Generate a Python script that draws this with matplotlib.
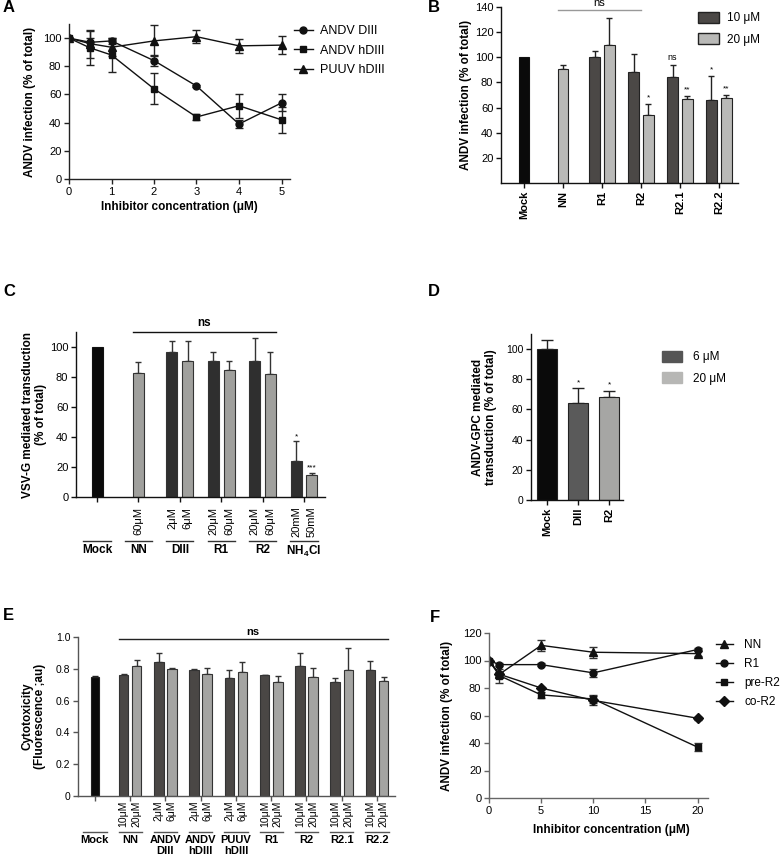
import numpy as np
import matplotlib.pyplot as plt
from matplotlib.lines import Line2D
from matplotlib.patches import Patch

plt.rcParams['font.family'] = ['Liberation Sans', 'DejaVu Sans']
plt.rcParams['mathtext.fontset'] = 'custom'
plt.rcParams['mathtext.rm'] = 'Liberation Sans'
plt.rcParams['mathtext.bf'] = 'Liberation Sans:bold'
plt.rcParams['font.size'] = 8

# ---------------- data ----------------
# A: dose response, three domains
a_x = [0, 0.5, 1, 2, 3, 4, 5]
a_diii = [100, 97, 98, 84, 66, 39, 54]
a_diii_err = [0, 3, 2, 4, 1, 3, 6]
a_hdiii = [100, 93, 88, 64, 44, 52, 42]
a_hdiii_err = [0, 12, 12, 11, 2, 8.5, 9]
a_puuv = [100, 96, 93.5, 98, 101, 94.5, 95]
a_puuv_err = [0, 10, 6, 11, 4.5, 5, 6.5]

# B: peptides, 10 / 20 uM
b_groups = ['Mock', 'NN', 'R1', 'R2', 'R2.1', 'R2.2']
b_mock = 100
b_dark = [None, None, 100, 88, 84, 66]
b_dark_err = [0, 0, 5, 15, 10, 19]
b_light = [None, 91, 110, 54, 67, 68]
b_light_err = [0, 3, 21, 9, 2, 2]
b_dark_sig = ['', '', '', '', 'ns', '*']
b_light_sig = ['', '', '', '*', '**', '**']

# C: VSV-G transduction
c_groups = ['Mock', 'NN', 'DIII', 'R1', 'R2', r'NH$_\mathbf{4}$Cl']
c_mock = 100
c_dark = [None, None, 97, 91, 90.5, 24]
c_dark_err = [0, 0, 7, 6, 15.5, 13]
c_light = [None, 83, 91, 85, 82, 14.5]
c_light_err = [0, 7, 13, 6, 15, 1.5]
c_dark_lbl = ['', '', '2μM', '20μM', '20μM', '20mM']
c_light_lbl = ['', '60μM', '6μM', '60μM', '60μM', '50mM']
c_dark_sig = ['', '', '', '', '', '*']
c_light_sig = ['', '', '', '', '', '***']

# D: ANDV-GPC transduction
d_labels = ['Mock', 'DIII', 'R2']
d_values = [100, 64, 68.5]
d_err = [6, 10, 4]
d_sig = ['', '*', '*']

# E: cytotoxicity
e_groups = ['Mock', 'NN', 'ANDV\nDIII', 'ANDV\nhDIII', 'PUUV\nhDIII', 'R1', 'R2', 'R2.1', 'R2.2']
e_mock = 0.75
e_mock_err = 0.005
e_dark = [None, 0.76, 0.84, 0.79, 0.74, 0.76, 0.815, 0.715, 0.795]
e_dark_err = [0, 0.005, 0.06, 0.01, 0.05, 0.003, 0.085, 0.03, 0.055]
e_light = [None, 0.82, 0.80, 0.765, 0.78, 0.72, 0.75, 0.79, 0.725]
e_light_err = [0, 0.035, 0.003, 0.04, 0.06, 0.035, 0.055, 0.14, 0.025]
e_dark_lbl = ['', '10μM', '2μM', '2μM', '2μM', '10μM', '10μM', '10μM', '10μM']
e_light_lbl = ['', '20μM', '6μM', '6μM', '6μM', '20μM', '20μM', '20μM', '20μM']

# F: time of addition
f_x = [0, 1, 5, 10, 20]
f_nn = [100, 90, 111, 106, 105]
f_nn_err = [0, 2, 4, 4, 2]
f_r1 = [100, 97, 97, 91, 108]
f_r1_err = [0, 1, 1, 3, 1]
f_pre = [100, 89, 75, 72, 37]
f_pre_err = [0, 5, 2, 3, 3]
f_co = [100, 90, 80, 71, 58]
f_co_err = [0, 2, 1, 3, 1]

W, H = 783, 860
fig = plt.figure(figsize=(W / 100, H / 100), dpi=100)


def add_ax(l, t, r, b):
    return fig.add_axes([l / W, 1 - b / H, (r - l) / W, (b - t) / H])


def style(ax, color='#222222', size=8):
    for s in ['top', 'right']:
        ax.spines[s].set_visible(False)
    for s in ['left', 'bottom']:
        ax.spines[s].set_color(color)
        ax.spines[s].set_linewidth(1.0)
    ax.tick_params(direction='out', length=3.5, width=1, color=color,
                   labelsize=size, pad=2)


def panel_letter(x, y, s):
    fig.text(x / W, 1 - y / H, s, fontsize=12, fontweight='bold', va='center', ha='left')


def grouped_bars(ax, dark, dark_err, light, light_err, dc, lc, off, width, ec):
    pos_d, pos_l = [], []
    for i in range(len(dark)):
        both = dark[i] is not None and light[i] is not None
        if dark[i] is not None:
            p = i - off if both else i
            ax.bar(p, dark[i], width, color=dc, edgecolor=ec, linewidth=0.8, zorder=2)
            ax.errorbar(p, dark[i], yerr=[[0], [dark_err[i]]], fmt='none', ecolor=ec,
                        elinewidth=1, capsize=2.5, capthick=1, zorder=1)
        pos_d.append(i - off if both else i)
        if light[i] is not None:
            p = i + off if both else i
            ax.bar(p, light[i], width, color=lc, edgecolor=ec, linewidth=0.8, zorder=2)
            ax.errorbar(p, light[i], yerr=[[0], [light_err[i]]], fmt='none', ecolor=ec,
                        elinewidth=1, capsize=2.5, capthick=1, zorder=1)
        pos_l.append(i + off if both else i)
    return pos_d, pos_l


# ---------------- A ----------------
axA = add_ax(69, 24, 290, 179)
style(axA)
axA.errorbar(a_x, a_diii, yerr=a_diii_err, fmt='none', ecolor='#222', elinewidth=1, capsize=3)
axA.errorbar(a_x, a_hdiii, yerr=a_hdiii_err, fmt='none', ecolor='#222', elinewidth=1, capsize=3)
axA.errorbar(a_x, a_puuv, yerr=a_puuv_err, fmt='none', ecolor='#222', elinewidth=1, capsize=3)
hA1, = axA.plot(a_x, a_diii, '-o', color='#111', ms=5, lw=1, label='ANDV DIII')
hA2, = axA.plot(a_x, a_hdiii, '-s', color='#111', ms=5, lw=1, label='ANDV hDIII')
hA3, = axA.plot(a_x, a_puuv, '-^', color='#111', ms=6, lw=1, label='PUUV hDIII')
axA.set_xlim(0, 5.2)
axA.set_ylim(0, 110)
axA.set_xticks([0, 1, 2, 3, 4, 5])
axA.set_yticks([0, 20, 40, 60, 80, 100])
axA.set_ylabel('ANDV infection (% of total)', fontweight='bold', fontsize=8.5)
axA.yaxis.set_label_coords(-0.15, 0.5)
axA.set_xlabel('Inhibitor concentration (μM)', fontweight='bold', fontsize=8.5)
axA.xaxis.set_label_coords(0.5, -0.14)
fig.legend(handles=[hA1, hA2, hA3], loc='upper left', bbox_to_anchor=(294 / W, 1 - 25 / H),
           frameon=False, fontsize=9, handlelength=1.5, handletextpad=0.55,
           labelspacing=0.6, borderaxespad=0, borderpad=0)
panel_letter(3, 8, 'A')

# ---------------- B ----------------
axB = add_ax(501, 7, 738, 183)
style(axB, color='#111')
axB.bar(0, b_mock, 0.28, color='#0a0a0a', edgecolor='#111', linewidth=0.8, zorder=2)
bd, bl = grouped_bars(axB, b_dark, b_dark_err, b_light, b_light_err,
                      '#4b4846', '#b9b9b7', 0.19, 0.28, '#222')
for i in range(len(b_groups)):
    if b_dark_sig[i]:
        axB.text(bd[i], b_dark[i] + b_dark_err[i] + 2, b_dark_sig[i], ha='center',
                 va='bottom', fontsize=6.5 if b_dark_sig[i] == 'ns' else 6)
    if b_light_sig[i]:
        axB.text(bl[i], b_light[i] + b_light_err[i] + 2, b_light_sig[i], ha='center',
                 va='bottom', fontsize=6)
axB.plot([0.86, 3.0], [137.5, 137.5], color='#999', lw=1, clip_on=False)
axB.text(1.93, 139, 'ns', ha='center', va='bottom', fontsize=8, clip_on=False)
axB.set_xlim(-0.59, 5.49)
axB.set_ylim(0, 140)
axB.set_yticks([20, 40, 60, 80, 100, 120, 140])
axB.set_xticks(range(len(b_groups)))
axB.set_xticklabels(b_groups, rotation=90, fontweight='bold', fontsize=8)
axB.set_ylabel('ANDV infection (% of total)', fontweight='bold', fontsize=8.5)
axB.yaxis.set_label_coords(-0.122, 0.5)
fig.legend(handles=[Patch(facecolor='#4b4846', edgecolor='#222', label='10 μM'),
                    Patch(facecolor='#b9b9b7', edgecolor='#222', label='20 μM')],
           loc='upper left', bbox_to_anchor=(698 / W, 1 - 12 / H), frameon=False,
           fontsize=8.5, handlelength=1.8, handleheight=1.0, handletextpad=0.65,
           labelspacing=0.75, borderaxespad=0, borderpad=0)
panel_letter(428, 8, 'B')

# ---------------- C ----------------
axC = add_ax(76, 332, 325, 497)
style(axC, color='#111')
axC.bar(0, c_mock, 0.265, color='#0a0a0a', edgecolor='#111', linewidth=0.8, zorder=2)
cd, cl = grouped_bars(axC, c_dark, c_dark_err, c_light, c_light_err,
                      '#2f2f2f', '#a0a09d', 0.19, 0.265, '#333')
for i in range(len(c_groups)):
    if c_dark_sig[i]:
        axC.text(cd[i], c_dark[i] + c_dark_err[i] + 1, c_dark_sig[i], ha='center',
                 va='bottom', fontsize=6)
    if c_light_sig[i]:
        axC.text(cl[i], c_light[i] + c_light_err[i] + 1, c_light_sig[i], ha='center',
                 va='bottom', fontsize=6)
    for p, s in [(cd[i], c_dark_lbl[i]), (cl[i], c_light_lbl[i])]:
        if s:
            axC.annotate(s, xy=(p, 0), xycoords=('data', 'axes fraction'),
                         xytext=(0, -7), textcoords='offset points', rotation=90,
                         ha='center', va='top', fontsize=8)
    axC.plot([i - 0.33, i + 0.33], [-0.267, -0.267], color='#333', lw=1,
             transform=axC.get_xaxis_transform(), clip_on=False)
    axC.text(i, -0.285, c_groups[i], transform=axC.get_xaxis_transform(), ha='center',
             va='top', fontweight='bold', fontsize=8.5)
axC.plot([0.87, 4.32], [110, 110], color='#111', lw=1, clip_on=False)
axC.text(2.58, 112, 'ns', ha='center', va='bottom', fontweight='bold', fontsize=8.5,
         clip_on=False)
axC.set_xlim(-0.51, 5.51)
axC.set_ylim(0, 110)
axC.set_yticks([0, 20, 40, 60, 80, 100])
axC.set_xticks(range(len(c_groups)))
axC.set_xticklabels([])
axC.set_ylabel('VSV-G mediated transduction\n(% of total)', fontweight='bold',
               fontsize=8.5, linespacing=1.15)
axC.yaxis.set_label_coords(-0.115, 0.5)
panel_letter(3, 292, 'C')

# ---------------- D ----------------
axD = add_ax(531, 334, 623, 500)
style(axD, color='#111', size=7.5)
d_colors = ['#0a0a0a', '#5a5a5a', '#a6a6a4']
d_pos = np.arange(len(d_labels))
axD.bar(d_pos, d_values, 0.65, color=d_colors, edgecolor='#222', linewidth=0.8, zorder=2)
axD.errorbar(d_pos, d_values, yerr=[np.zeros(len(d_err)), d_err], fmt='none',
             ecolor='#222', elinewidth=1, capsize=4, zorder=1)
for i in range(len(d_labels)):
    if d_sig[i]:
        axD.text(d_pos[i], d_values[i] + d_err[i] + 1.5, d_sig[i], ha='center',
                 va='bottom', fontsize=6)
axD.set_xlim(-0.52, 2.45)
axD.set_ylim(0, 110)
axD.set_yticks([0, 20, 40, 60, 80, 100])
axD.set_xticks(d_pos)
axD.set_xticklabels(d_labels, rotation=90, fontweight='bold', fontsize=8)
axD.set_ylabel('ANDV-GPC mediated\ntransduction (% of total)', fontweight='bold',
               fontsize=8.5, linespacing=1.15)
axD.yaxis.set_label_coords(-0.37, 0.5)
fig.legend(handles=[Patch(facecolor='#555555', edgecolor='#555555', label='6 μM'),
                    Patch(facecolor='#b7b7b5', edgecolor='#b7b7b5', label='20 μM')],
           loc='upper left', bbox_to_anchor=(662 / W, 1 - 351 / H), frameon=False,
           fontsize=8.5, handlelength=1.7, handleheight=1.0, handletextpad=0.9,
           labelspacing=0.75, borderaxespad=0, borderpad=0)
panel_letter(428, 292, 'D')

# ---------------- E ----------------
axE = add_ax(78, 637, 395, 796)
style(axE, color='#555', size=7.5)
axE.bar(0, e_mock, 0.24, color='#0a0a0a', edgecolor='#222', linewidth=0.8, zorder=2)
axE.errorbar(0, e_mock, yerr=[[0], [e_mock_err]], fmt='none', ecolor='#222',
             elinewidth=1, capsize=2.5)
ed, el = grouped_bars(axE, e_dark, e_dark_err, e_light, e_light_err,
                      '#4a4745', '#a4a4a2', 0.185, 0.27, '#333')
for i in range(len(e_groups)):
    for p, s in [(ed[i], e_dark_lbl[i]), (el[i], e_light_lbl[i])]:
        if s:
            axE.annotate(s, xy=(p, 0), xycoords=('data', 'axes fraction'),
                         xytext=(0, -3), textcoords='offset points', rotation=90,
                         ha='center', va='top', fontsize=7.5)
    axE.plot([i - 0.33, i + 0.33], [-0.226, -0.226], color='#555', lw=1,
             transform=axE.get_xaxis_transform(), clip_on=False)
    axE.text(i, -0.245, e_groups[i], transform=axE.get_xaxis_transform(), ha='center',
             va='top', fontweight='bold', fontsize=8, linespacing=1.1)
axE.plot([0.67, 8.32], [0.987, 0.987], color='#222', lw=1, clip_on=False)
axE.text(4.48, 1.0, 'ns', ha='center', va='bottom', fontweight='bold', fontsize=8,
         clip_on=False)
axE.set_xlim(-0.48, 8.51)
axE.set_ylim(0, 1.0)
axE.set_yticks([0, 0.2, 0.4, 0.6, 0.8, 1.0])
axE.set_yticklabels(['0', '0.2', '0.4', '0.6', '0.8', '1.0'])
axE.set_xticks(range(len(e_groups)))
axE.set_xticklabels([])
axE.set_ylabel('Cytotoxicity\n(Fluorescence ;au)', fontweight='bold', fontsize=8.5,
               linespacing=1.1)
axE.yaxis.set_label_coords(-0.1, 0.5)
panel_letter(3, 615, 'E')

# ---------------- F ----------------
axF = add_ax(489, 633, 708, 798)
style(axF, color='#666')
for y, e in [(f_nn, f_nn_err), (f_r1, f_r1_err), (f_pre, f_pre_err), (f_co, f_co_err)]:
    axF.errorbar(f_x, y, yerr=e, fmt='none', ecolor='#333', elinewidth=1, capsize=3)
hF1, = axF.plot(f_x, f_nn, '-^', color='#111', ms=6, lw=1, label='NN')
hF2, = axF.plot(f_x, f_r1, '-o', color='#111', ms=5, lw=1, label='R1')
hF3, = axF.plot(f_x, f_pre, '-s', color='#111', ms=5, lw=1, label='pre-R2')
hF4, = axF.plot(f_x, f_co, '-D', color='#111', ms=5, lw=1, label='co-R2')
axF.set_xlim(0, 21)
axF.set_ylim(0, 120)
axF.set_xticks([0, 5, 10, 15, 20])
axF.set_yticks([0, 20, 40, 60, 80, 100, 120])
axF.set_ylabel('ANDV infection (% of total)', fontweight='bold', fontsize=8.5)
axF.yaxis.set_label_coords(-0.164, 0.5)
axF.set_xlabel('Inhibitor concentration (μM)', fontweight='bold', fontsize=8.5)
axF.xaxis.set_label_coords(0.56, -0.16)
fig.legend(handles=[hF1, hF2, hF3, hF4], loc='upper left',
           bbox_to_anchor=(716 / W, 1 - 639 / H), frameon=False, fontsize=8.5,
           handlelength=1.4, handletextpad=1.0, labelspacing=0.6, borderaxespad=0,
           borderpad=0)
panel_letter(430, 617, 'F')

fig.savefig('out.png', dpi=100)
